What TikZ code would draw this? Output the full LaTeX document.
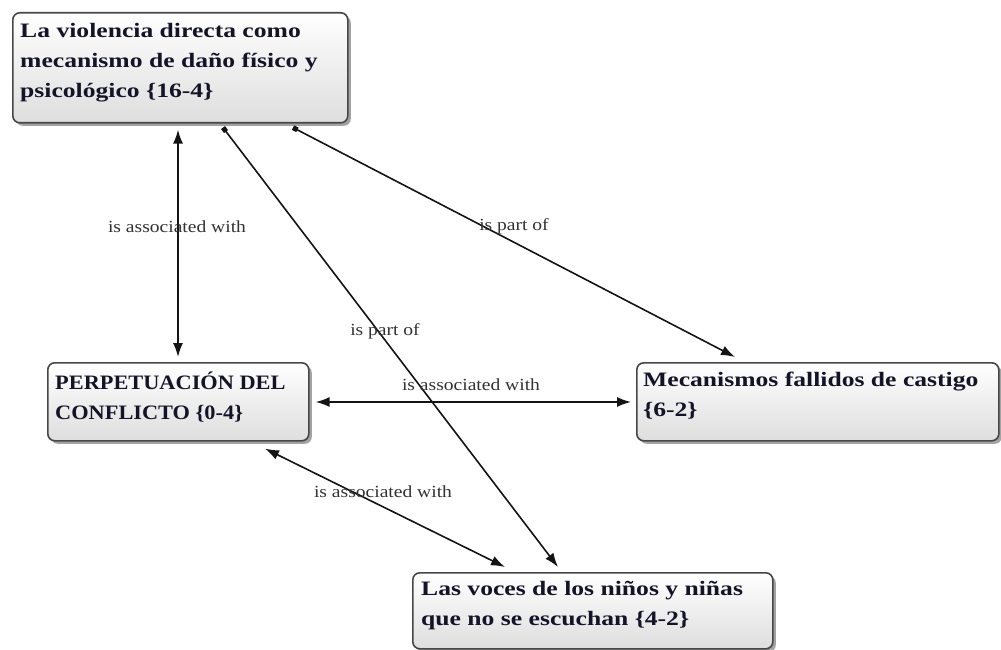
\documentclass[tikz,border=0pt]{standalone}
\usepackage{fontspec}
\setmainfont{Liberation Serif}
\newfontfamily\boxfont[FakeStretch=1.25]{Liberation Serif}
\newfontfamily\capsfont[FakeStretch=1.09]{Liberation Serif}
\newfontfamily\lblfont[FakeStretch=1.15]{Liberation Serif}
\usetikzlibrary{arrows.meta,shadows,calc}
\definecolor{boxtxt}{RGB}{20,20,40}
\definecolor{lbltxt}{RGB}{50,50,50}
\definecolor{edgecol}{RGB}{20,20,20}
\begin{document}
\begin{tikzpicture}[x=1pt,y=-1pt,
  concept/.style={draw=black!72, line width=1.6pt, rounded corners=7pt,
    top color=white, bottom color=black!13, anchor=north west, inner sep=0pt,
    drop shadow={shadow xshift=3pt, shadow yshift=-3pt, fill=black!60, opacity=0.6}},
  ctext/.style={anchor=north west, inner sep=0pt, align=left, text=boxtxt,
    font=\boxfont\bfseries\fontsize{20.5pt}{30pt}\selectfont},
  capstext/.style={ctext, font=\capsfont\bfseries\fontsize{20.5pt}{30pt}\selectfont},
  lbl/.style={anchor=base, inner sep=0pt, text=lbltxt,
    font=\lblfont\fontsize{17pt}{20pt}\selectfont},
  edge/.style={draw=edgecol, line width=1.6pt},
  both/.style={edge, {Latex[length=14pt,width=10pt]}-{Latex[length=14pt,width=10pt]}},
  part/.style={edge, {Square[length=5pt,width=5pt]}-{Latex[length=14pt,width=10pt]}}
]
\useasboundingbox (0,0) rectangle (1001,650);

% concept boxes
\node[concept, minimum width=335pt, minimum height=110pt] (top) at (12,12) {};
\node[concept, minimum width=261pt, minimum height=78pt] (perp) at (47,362) {};
\node[concept, minimum width=362pt, minimum height=78pt] (mec) at (636,362) {};
\node[concept, minimum width=360pt, minimum height=76pt] (voc) at (412,572) {};

% box texts
\node[ctext] (topT) at ($(top.north west)+(8,11)$) {La violencia directa como\\mecanismo de daño físico y\\psicológico \{16-4\}};
\node[capstext] (perpT) at ($(perp.north west)+(8,10)$) {PERPETUACIÓN DEL\\CONFLICTO \{0-4\}};
\node[ctext] (mecT) at ($(mec.north west)+(7,10)$) {Mecanismos fallidos de castigo\\\{6-2\}};
\node[ctext] (vocT) at ($(voc.north west)+(9,9)$) {Las voces de los niños y niñas\\que no se escuchan \{4-2\}};

% connectors
\draw[both] ($(top.south west)+(166,6)$) -- ($(perp.north west)+(131,-5)$);
\draw[part] ($(top.south west)+(211,4)$) -- ($(voc.north west)+(146,-5)$);
\draw[part] ($(top.south west)+(281,4)$) -- ($(mec.north west)+(99,-5)$);
\draw[both] ($(perp.north east)+(6,40)$) -- ($(mec.north west)+(-5,40)$);
\draw[both] ($(perp.south west)+(218,7)$) -- ($(voc.north west)+(93,-5)$);

% connector labels
\node[lbl] (l1) at (177,232) {is associated with};
\node[lbl] (l2) at (514,230) {is part of};
\node[lbl] (l3) at (385,335) {is part of};
\node[lbl] (l4) at (471,390) {is associated with};
\node[lbl] (l5) at (383,497) {is associated with};
\end{tikzpicture}
\end{document}
